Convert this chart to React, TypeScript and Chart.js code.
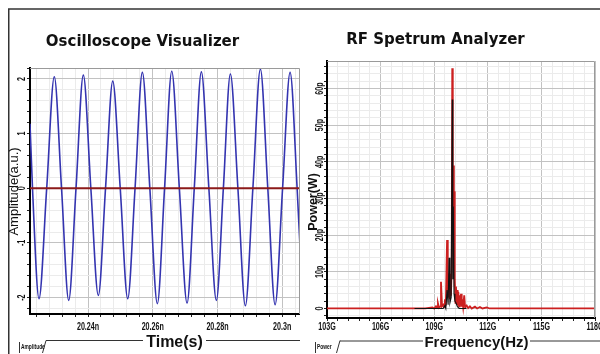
import React, { useEffect, useRef } from "react";
import { Chart, registerables } from "chart.js";
Chart.register(...registerables);

// ---------- Oscilloscope data (time in ns, amplitude in a.u.) ----------
const timeNs = [
  20.22207, 20.22284, 20.22485, 20.22723, 20.22958, 20.23181, 20.23403, 20.23629, 20.23855,
  20.24087, 20.24318, 20.24541, 20.24764, 20.24995, 20.25227, 20.25453, 20.25679, 20.2591,
  20.26142, 20.26365, 20.26587, 20.26822, 20.2706, 20.27283, 20.27502, 20.27734, 20.27966,
  20.28182, 20.28399, 20.28631, 20.28862, 20.29094, 20.29326, 20.29555, 20.29781, 20.30012,
  20.30244, 20.30461, 20.30569,
];
const amplitude = [
  1.18, 0, -2.02, 0, 2.04, 0, -2.05, 0, 2.07,
  0, -1.96, 0, 1.96, 0, -2.02, 0, 2.12, 0,
  -2.11, 0, 2.14, 0, -2.1, 0, 2.13, 0, -2.05,
  0, 2.09, 0, -2.15, 0, 2.18, 0, -2.13, 0,
  2.12, 0, -1.3,
];
const zeroLineTime = [20.22207, 20.3055];
const zeroLineAmp = [0, 0];
const timeTickValues = [20.24, 20.26, 20.28, 20.3];
const timeTickLabels = ["20.24n", "20.26n", "20.28n", "20.3n"];
const ampTickValues = [2, 1, 0, -1, -2];
const ampTickLabels = ["2", "1", "0", "-1", "-2"];

// ---------- RF spectrum data (frequency in GHz, power in pW) ----------
const redFreqGHz = [
  103, 108.5, 108.9, 109.0, 109.1, 109.16, 109.21, 109.27, 109.33, 109.38, 109.44, 109.51,
  109.56, 109.6, 109.65, 109.72, 109.76, 109.79, 109.83, 109.87, 109.9, 109.94, 109.98,
  110.01, 110.04, 110.07, 110.1, 110.12, 110.14, 110.16, 110.19, 110.22, 110.25, 110.29,
  110.32, 110.35, 110.39, 110.43, 110.47, 110.5, 110.54, 110.57, 110.62, 110.68, 110.73,
  110.82, 110.9, 111.0, 111.1, 111.28, 111.4, 111.56, 111.7, 111.94, 112.1, 118,
];
const redPowerPw = [
  0, 0, 0.3, 0, 0.6, 0.2, 1.4, 0.2, 0.5, 7.3, 0.6, 1.0,
  0.4, 2.5, 0.8, 18.7, 3.0, 4.0, 9.5, 2.5, 6.5, 3.5, 12,
  65.5, 18, 39, 14, 32, 6, 8, 1.5, 6, 1.2, 5,
  0.8, 4.5, 0.6, 3.6, 0.8, 4, 0.5, 2.5, 0.4, 3.6, 0.3,
  0.8, 0.1, 0.6, 0, 0.5, 0, 0.4, 0, 0.3, 0, 0,
];
const blackFreqGHz = [
  107.9, 109.5, 109.6, 109.65, 109.72, 109.78, 109.83, 109.88, 109.95, 110.01, 110.04,
  110.07, 110.11, 110.16, 110.22, 110.3, 110.4, 110.8,
];
const blackPowerPw = [
  0, 0, 0.8, 0, 5, 1, 13.8, 1.5, 3, 57, 8,
  27.8, 4, 2, 1.5, 0.5, 0, 0,
];
const freqTickValues = [103, 106, 109, 112, 115, 118];
const freqTickLabels = ["103G", "106G", "109G", "112G", "115G", "118G"];
const powerTickValues = [0, 10, 20, 30, 40, 50, 60];
const powerTickLabels = ["0", "10p", "20p", "30p", "40p", "50p", "60p"];

// ---------- grid helpers (minor subdivisions) ----------
const timeGrid = Array.from({ length: 21 }, (_, k) => 20.224 + k * 0.004);
const timeMajor = timeGrid.map((_, k) => (k - 4) % 5 === 0);
const ampGrid = Array.from({ length: 23 }, (_, k) => -2.2 + k * 0.2);
const ampMajor = ampGrid.map((_, k) => k % 5 === 1);
const freqGrid = Array.from({ length: 26 }, (_, k) => 103 + k * 0.6);
const freqMajor = freqGrid.map((_, k) => k % 5 === 0);
const powGrid = Array.from({ length: 35 }, (_, k) => -2 + k * 2);
const powMajor = powGrid.map((_, k) => k % 5 === 1);

const MAJOR = "#c2c2c2";
const MINOR = "#ebebeb";

function drawCondensed(ctx: any, text: string, x: number, y: number, rotate: boolean) {
  ctx.save();
  ctx.translate(x, y);
  if (rotate) ctx.rotate(-Math.PI / 2);
  ctx.scale(0.62, 1);
  ctx.font = 'bold 11.5px "Liberation Sans", Arial, sans-serif';
  ctx.textAlign = "center";
  ctx.textBaseline = "middle";
  ctx.fillStyle = "#111";
  ctx.fillText(text, 0, 0);
  ctx.restore();
}

function drawRotText(ctx: any, text: string, x: number, y: number, font: string) {
  ctx.save();
  ctx.translate(x, y);
  ctx.rotate(-Math.PI / 2);
  ctx.font = font;
  ctx.textAlign = "center";
  ctx.textBaseline = "middle";
  ctx.fillStyle = "#111";
  ctx.fillText(text, 0, 0);
  ctx.restore();
}

function drawTab(ctx: any, label: string, x0: number, lineStart: number) {
  ctx.save();
  ctx.strokeStyle = "#333";
  ctx.lineWidth = 1;
  ctx.beginPath();
  ctx.moveTo(x0 - 0.5, 353);
  ctx.lineTo(x0 - 0.5, 342);
  ctx.stroke();
  ctx.beginPath();
  ctx.moveTo(lineStart - 3.5, 353);
  ctx.lineTo(lineStart, 340.5);
  ctx.stroke();
  ctx.translate(x0 + 1, 347);
  ctx.scale(0.75, 1);
  ctx.font = 'bold 6.5px "Liberation Sans", Arial, sans-serif';
  ctx.fillStyle = "#111";
  ctx.textAlign = "left";
  ctx.textBaseline = "middle";
  ctx.fillText(label, 0, 0);
  ctx.restore();
}

function drawPlotBorder(ctx: any, a: any) {
  ctx.save();
  ctx.strokeStyle = "#9a9a9a";
  ctx.lineWidth = 1;
  ctx.beginPath();
  ctx.moveTo(a.left, a.top + 0.5);
  ctx.lineTo(a.right - 0.5, a.top + 0.5);
  ctx.lineTo(a.right - 0.5, a.bottom);
  ctx.stroke();
  ctx.restore();
}

const leftDecor = {
  id: "leftDecor",
  afterDraw(chart: any) {
    const { ctx, chartArea: a, scales } = chart;
    drawPlotBorder(ctx, a);
    ctx.save();
    ctx.strokeStyle = "#333";
    ctx.lineWidth = 1.5;
    ctx.beginPath();
    ctx.moveTo(8.75, 354);
    ctx.lineTo(8.75, 9);
    ctx.lineTo(300, 9);
    ctx.stroke();
    ctx.restore();
    timeTickValues.forEach((v, i) =>
      drawCondensed(ctx, timeTickLabels[i], scales.x.getPixelForValue(v), 327, false)
    );
    ampTickValues.forEach((v, i) =>
      drawCondensed(ctx, ampTickLabels[i], 22, scales.y.getPixelForValue(v), true)
    );
    ctx.save();
    ctx.fillStyle = "#111";
    ctx.font = 'bold 15px "DejaVu Sans", sans-serif';
    ctx.textAlign = "center";
    ctx.textBaseline = "alphabetic";
    ctx.fillText("Oscilloscope Visualizer", 142.5, 46);
    ctx.font = 'bold 16px "Liberation Sans", Arial, sans-serif';
    ctx.fillText("Time(s)", 174.5, 346.5);
    ctx.strokeStyle = "#333";
    ctx.lineWidth = 1;
    ctx.beginPath();
    ctx.moveTo(46, 340.5);
    ctx.lineTo(143, 340.5);
    ctx.moveTo(206, 340.5);
    ctx.lineTo(300, 340.5);
    ctx.stroke();
    ctx.restore();
    drawRotText(ctx, "Amplitude(a.u.)", 14, 191.5, '13px "Liberation Sans", Arial, sans-serif');
    drawTab(ctx, "Amplitude", 20, 46);
  },
};

const rightDecor = {
  id: "rightDecor",
  afterDraw(chart: any) {
    const { ctx, chartArea: a, scales } = chart;
    drawPlotBorder(ctx, a);
    ctx.save();
    ctx.strokeStyle = "#333";
    ctx.lineWidth = 1.5;
    ctx.beginPath();
    ctx.moveTo(0, 9);
    ctx.lineTo(300, 9);
    ctx.stroke();
    ctx.restore();
    freqTickValues.forEach((v, i) =>
      drawCondensed(ctx, freqTickLabels[i], scales.x.getPixelForValue(v), 327, false)
    );
    powerTickValues.forEach((v, i) =>
      drawCondensed(ctx, powerTickLabels[i], 20, scales.y.getPixelForValue(v), true)
    );
    ctx.save();
    ctx.fillStyle = "#111";
    ctx.font = 'bold 15px "DejaVu Sans", sans-serif';
    ctx.textAlign = "center";
    ctx.textBaseline = "alphabetic";
    ctx.fillText("RF Spetrum Analyzer", 135.5, 43.5);
    ctx.font = 'bold 15px "Liberation Sans", Arial, sans-serif';
    ctx.fillText("Frequency(Hz)", 176.5, 346.5);
    ctx.strokeStyle = "#333";
    ctx.lineWidth = 1;
    ctx.beginPath();
    ctx.moveTo(40, 341);
    ctx.lineTo(123, 341);
    ctx.moveTo(230, 341);
    ctx.lineTo(300, 341);
    ctx.stroke();
    ctx.restore();
    drawRotText(ctx, "Power(W)", 13.5, 202, 'bold 12.5px "Liberation Sans", Arial, sans-serif');
    drawTab(ctx, "Power", 16, 40);
  },
};

function gridScale(values: number[], major: boolean[], min: number, max: number, fitSize: number, horizontal: boolean) {
  return {
    type: "linear" as const,
    min,
    max,
    afterBuildTicks: (scale: any) => {
      scale.ticks = values.map((v) => ({ value: v }));
    },
    afterFit: (scale: any) => {
      if (horizontal) scale.height = fitSize;
      else scale.width = fitSize;
    },
    ticks: { display: false },
    grid: {
      color: (c: any) => (major[c.index] ? MAJOR : MINOR),
      lineWidth: 1,
      drawTicks: true,
      tickLength: 3,
      tickColor: "#222",
    },
    border: { display: true, color: "#000", width: 2 },
  };
}

export default function App() {
  const leftRef = useRef<HTMLCanvasElement | null>(null);
  const rightRef = useRef<HTMLCanvasElement | null>(null);

  useEffect(() => {
    const left = new Chart(leftRef.current as HTMLCanvasElement, {
      type: "line",
      data: {
        datasets: [
          {
            data: zeroLineTime.map((t, i) => ({ x: t, y: zeroLineAmp[i] })),
            borderColor: "#8c1a1a",
            borderWidth: 2,
            pointRadius: 0,
            order: 0,
          },
          {
            data: timeNs.map((t, i) => ({ x: t, y: amplitude[i] })),
            borderColor: "#3434b0",
            borderWidth: 1.6,
            pointRadius: 0,
            cubicInterpolationMode: "monotone",
            order: 1,
          },
        ],
      },
      options: {
        animation: false,
        responsive: false,
        layout: { padding: { left: 0, right: 0, top: 68, bottom: 0 } },
        plugins: { legend: { display: false }, tooltip: { enabled: false }, title: { display: false } },
        scales: {
          x: gridScale(timeGrid, timeMajor, 20.22207, 20.3055, 40, true),
          y: gridScale(ampGrid, ampMajor, -2.3, 2.2, 30, false),
        },
      } as any,
      plugins: [leftDecor],
    });

    const right = new Chart(rightRef.current as HTMLCanvasElement, {
      type: "line",
      data: {
        datasets: [
          {
            data: blackFreqGHz.map((f, i) => ({ x: f, y: blackPowerPw[i] })),
            borderColor: "#111111",
            borderWidth: 1.1,
            pointRadius: 0,
            tension: 0,
            order: 0,
          },
          {
            data: redFreqGHz.map((f, i) => ({ x: f, y: redPowerPw[i] })),
            borderColor: "#cc2020",
            borderWidth: 1.8,
            pointRadius: 0,
            tension: 0,
            order: 1,
          },
        ],
      },
      options: {
        animation: false,
        responsive: false,
        layout: { padding: { left: 0, right: 5, top: 61, bottom: 0 } },
        plugins: { legend: { display: false }, tooltip: { enabled: false }, title: { display: false } },
        scales: {
          x: gridScale(freqGrid, freqMajor, 103, 118, 36, true),
          y: gridScale(powGrid, powMajor, -2.6, 67.5, 27, false),
        },
      } as any,
      plugins: [rightDecor],
    });

    return () => {
      left.destroy();
      right.destroy();
    };
  }, []);

  return (
    <div
      style={{
        position: "fixed",
        left: 0,
        top: 0,
        width: 600,
        height: 354,
        background: "#ffffff",
        overflow: "hidden",
      }}
    >
      <canvas
        ref={leftRef}
        width={300}
        height={354}
        style={{ position: "absolute", left: 0, top: 0, width: 300, height: 354 }}
      />
      <canvas
        ref={rightRef}
        width={300}
        height={354}
        style={{ position: "absolute", left: 300, top: 0, width: 300, height: 354 }}
      />
    </div>
  );
}
